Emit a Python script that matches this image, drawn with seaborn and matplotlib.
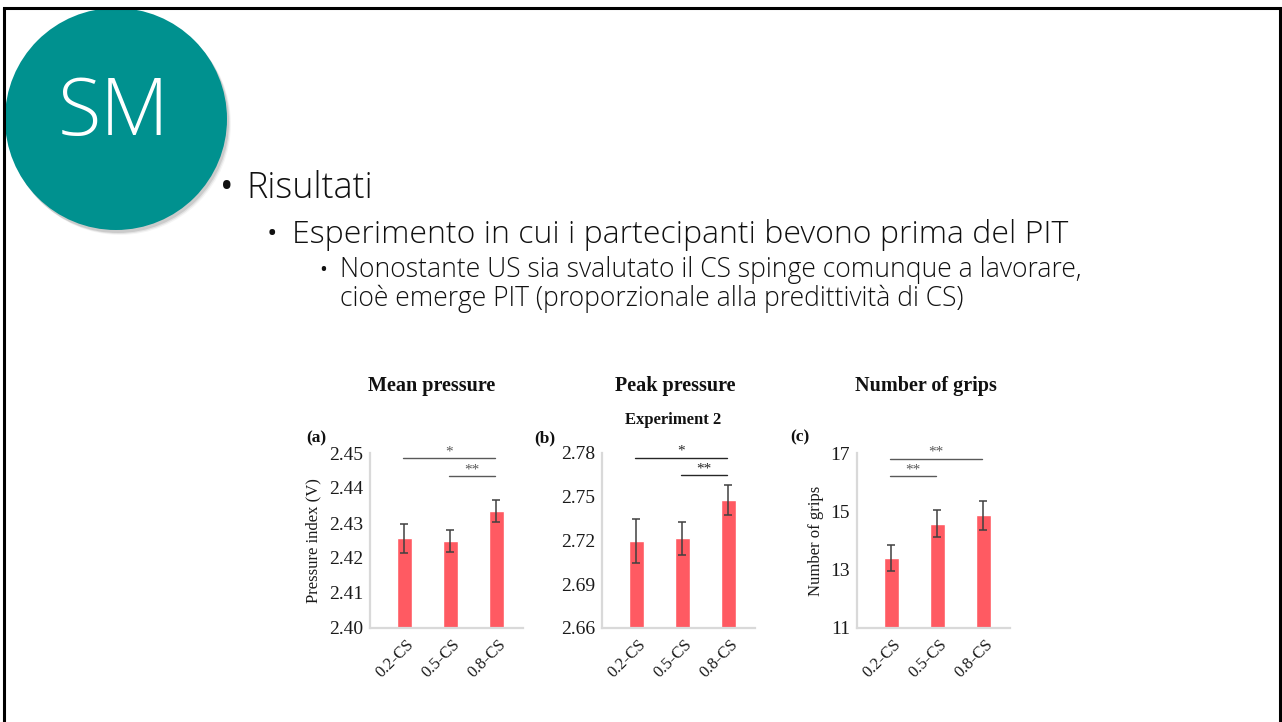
import numpy as np
import pandas as pd
import matplotlib
matplotlib.use("Agg")
import matplotlib.pyplot as plt
import matplotlib.transforms as mtransforms
from matplotlib.patches import Circle
import seaborn as sns

# ---------------- data ----------------
conditions = ["0.2-CS", "0.5-CS", "0.8-CS"]

mean_pressure = [2.4256, 2.4249, 2.4335]
mean_pressure_err = [0.0042, 0.0032, 0.0031]

peak_pressure = [2.7197, 2.7215, 2.7477]
peak_pressure_err = [0.0152, 0.0114, 0.0105]

grips = [13.41, 14.58, 14.86]
grips_err = [0.44, 0.47, 0.49]

mean_ticks = [2.40, 2.41, 2.42, 2.43, 2.44, 2.45]
peak_ticks = [2.66, 2.69, 2.72, 2.75, 2.78]
grips_ticks = [11, 13, 15, 17]

# significance brackets: (from, to, label, height)
mean_sig = [(0, 2, "*", 2.4485), (1, 2, "**", 2.4434)]
peak_sig = [(0, 2, "*", 2.7769), (1, 2, "**", 2.7648)]
grips_sig = [(0, 2, "**", 16.80), (0, 1, "**", 16.20)]

# ---------------- figure ----------------
sns.set_theme(style="white")
plt.rcParams["font.family"] = ["Liberation Serif", "DejaVu Serif"]

W, H = 1282, 722
fig = plt.figure(figsize=(W / 100, H / 100), dpi=100)
fig.patch.set_facecolor("white")

# slide overlay (pixel coordinates)
bg = fig.add_axes([0, 0, 1, 1], zorder=0)
bg.set_xlim(0, W)
bg.set_ylim(H, 0)
bg.axis("off")

teal = "#00918F"
for k, a in enumerate([0.10, 0.07, 0.04]):
    bg.add_patch(Circle((116 + 2 + k, 119 + 3 + k), 111, color="black", alpha=a, lw=0, zorder=1))
bg.add_patch(Circle((116, 119), 111, color=teal, lw=0, zorder=2))
bg.text(114, 114, "SM", color="white", fontsize=57, family=["Open Sans", "DejaVu Sans"],
        fontweight="light", ha="center", va="center", zorder=3)

# border
bg.plot([4, 1280], [8, 8], color="black", lw=2.2, zorder=5, solid_capstyle="projecting")
bg.plot([4, 4], [8, 722], color="black", lw=2.2, zorder=5)
bg.plot([1280, 1280], [8, 722], color="black", lw=2.2, zorder=5)

slide_font = dict(family=["Open Sans", "DejaVu Sans"], fontweight="light", color="#111111",
                  va="baseline", zorder=4)
bullet_font = dict(family=["Open Sans", "DejaVu Sans"], fontweight="normal", color="#111111",
                   va="baseline", ha="center", zorder=4)
bg.text(227, 198, "•", fontsize=26, **bullet_font)
bg.text(246, 198, "Risultati", fontsize=25.8, **slide_font)
bg.text(272, 242, "•", fontsize=20, **bullet_font)
bg.text(292, 243, "Esperimento in cui i partecipanti bevono prima del PIT", fontsize=23, **slide_font)
bg.text(323, 276, "•", fontsize=15, **bullet_font)
bg.text(340, 277, "Nonostante US sia svalutato il CS spinge comunque a lavorare,", fontsize=19.1, **slide_font)
bg.text(340, 306, "cioè emerge PIT (proporzionale alla predittività di CS)", fontsize=19.1, **slide_font)

bar_color = "#FF5A62"
spine_color = "#D9D9D9"
XL = (-0.75, 2.57)


def px_axes(left, top, right, bottom):
    return fig.add_axes([left / W, 1 - bottom / H, (right - left) / W, (bottom - top) / H], zorder=2)


def panel(ax, values, errs, ticks, sig, sig_color, ylabel, label_x):
    df = pd.DataFrame({"condition": conditions, "value": values})
    sns.barplot(data=df, x="condition", y="value", color=bar_color, width=0.32,
                saturation=1, ax=ax, zorder=2)
    ax.errorbar(range(len(conditions)), values, yerr=errs, fmt="none",
                ecolor="#404040", elinewidth=1.1, capsize=2.6, capthick=1.1, zorder=3)
    ax.set_facecolor("none")
    ax.set_xlim(*XL)
    ax.set_ylim(ticks[0], ticks[-1])
    ax.set_yticks(ticks)
    ax.set_yticklabels([f"{t:.2f}" if isinstance(t, float) else str(t) for t in ticks])
    for s in ["top", "right"]:
        ax.spines[s].set_visible(False)
    for s in ["left", "bottom"]:
        ax.spines[s].set_color(spine_color)
        ax.spines[s].set_linewidth(1.6)
    ax.tick_params(axis="both", length=0)
    ax.tick_params(axis="y", labelsize=14, pad=5, labelcolor="#1a1a1a")
    ax.tick_params(axis="x", labelsize=12, pad=0, labelcolor="#1a1a1a")
    off = mtransforms.ScaledTranslation(7 / 100, -14 / 100, fig.dpi_scale_trans)
    for lab in ax.get_xticklabels():
        lab.set_rotation(45)
        lab.set_ha("right")
        lab.set_va("center")
        lab.set_rotation_mode("anchor")
        lab.set_transform(lab.get_transform() + off)
    ax.set_xlabel("")
    if ylabel:
        ax.set_ylabel(ylabel, fontsize=12, color="#1a1a1a")
        ax.yaxis.set_label_coords(label_x, 0.5)
    else:
        ax.set_ylabel("")
    for i, j, txt, y in sig:
        ax.plot([i - 0.04, j - 0.03], [y, y], color=sig_color, lw=1.0, clip_on=False, zorder=4)
        ax.text((i + j) / 2 - 0.03, y, txt, ha="center", va="bottom", fontsize=11,
                color=sig_color, clip_on=False)


axa = px_axes(370, 453, 522.7, 628)
panel(axa, mean_pressure, mean_pressure_err, mean_ticks, mean_sig, "#595959",
      "Pressure index (V)", -0.32)
axb = px_axes(602, 453, 754.7, 628)
panel(axb, peak_pressure, peak_pressure_err, peak_ticks, peak_sig, "#262626", None, 0)
axc = px_axes(857, 453, 1009.7, 628)
panel(axc, grips, grips_err, grips_ticks, grips_sig, "#595959", "Number of grips", -0.215)

# titles and panel letters (pixel positions on the slide)
title_kw = dict(family=["Liberation Serif", "DejaVu Serif"], fontweight="bold", color="#111111",
                ha="center", va="center", zorder=4)
bg.text(432, 386, "Mean pressure", fontsize=14.5, **title_kw)
bg.text(675, 386, "Peak pressure", fontsize=14.5, **title_kw)
bg.text(926, 386, "Number of grips", fontsize=14.5, **title_kw)
bg.text(673, 420, "Experiment 2", fontsize=12, **title_kw)
bg.text(316, 438, "(a)", fontsize=12.5, **title_kw)
bg.text(545, 438, "(b)", fontsize=12.5, **title_kw)
bg.text(800, 437, "(c)", fontsize=12.5, **title_kw)

fig.savefig("out.png", dpi=100, facecolor="white")
